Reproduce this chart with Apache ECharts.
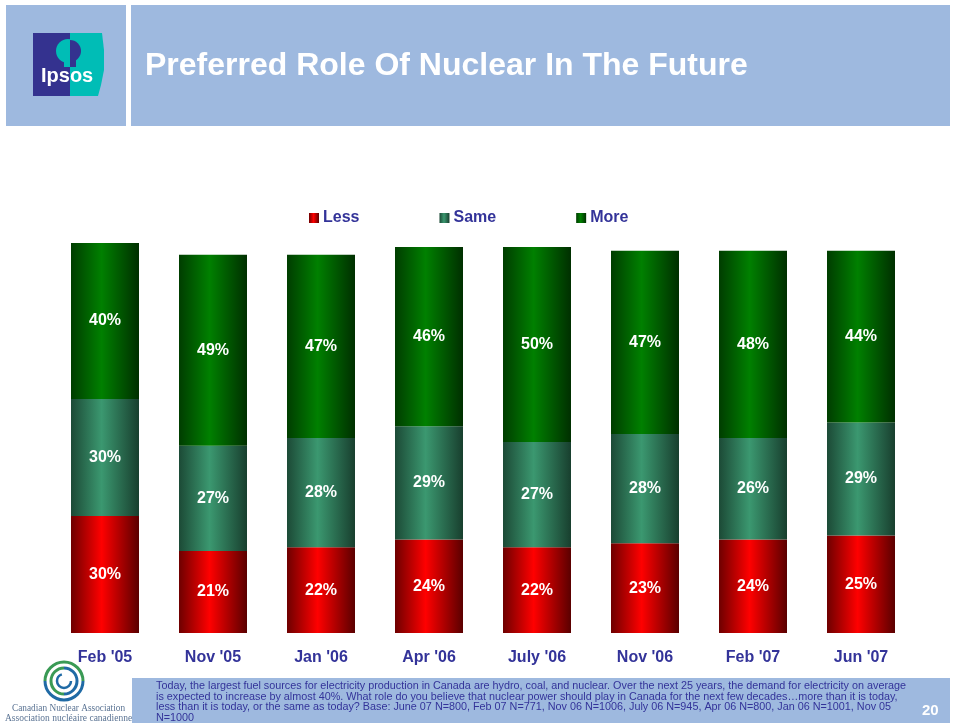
<!DOCTYPE html>
<html>
<head>
<meta charset="utf-8">
<script src="https://cdn.jsdelivr.net/npm/echarts@6/dist/echarts.min.js"></script>
<style>
html,body{margin:0;padding:0;background:#fff;}
#chart{width:955px;height:726px;}
</style>
</head>
<body>
<div id="chart"></div>
<script>
var categories = ["Feb '05", "Nov '05", "Jan '06", "Apr '06", "July '06", "Nov '06", "Feb '07", "Jun '07"];
var lessValues = [30, 21, 22, 24, 22, 23, 24, 25];
var sameValues = [30, 27, 28, 29, 27, 28, 26, 29];
var moreValues = [40, 49, 47, 46, 50, 47, 48, 44];
var seriesNames = ["Less", "Same", "More"];
var titleText = "Preferred Role Of Nuclear In The Future";
var footLines = [
  "Today, the largest fuel sources for electricity production in Canada are hydro, coal, and nuclear. Over the next 25 years, the demand for electricity on average",
  "is expected to increase by almost 40%. What role do you believe that nuclear power should play in Canada for the next few decades\u2026more than it is today,",
  "less than it is today, or the same as today? Base: June 07 N=800, Feb 07 N=771, Nov 06 N=1006, July 06 N=945, Apr 06 N=800, Jan 06 N=1001, Nov 05",
  "N=1000"
];
var pageNumber = "20";

function grad(c0, c1, c2) {
  return new echarts.graphic.LinearGradient(0, 0, 1, 0, [
    {offset: 0, color: c0},
    {offset: 0.45, color: c1},
    {offset: 1, color: c2}
  ]);
}
var colors = [
  grad('#6e0000', '#ff0000', '#5a0000'),
  grad('#1c4a36', '#3b9870', '#183f2e'),
  grad('#003d00', '#008000', '#002f00')
];
var valuesList = [lessValues, sameValues, moreValues];

var chart = echarts.init(document.getElementById('chart'), null, {renderer: 'canvas'});
var font = 'Liberation Sans, Arial, sans-serif';

var series = seriesNames.map(function (name, i) {
  return {
    name: name,
    type: 'bar',
    stack: 'total',
    barWidth: 68,
    data: valuesList[i],
    itemStyle: {color: colors[i]},
    label: {
      show: true,
      position: 'inside',
      formatter: '{c}%',
      color: '#ffffff',
      fontFamily: font,
      fontWeight: 'bold',
      fontSize: 16
    },
    emphasis: {disabled: true}
  };
});

var option = {
  animation: false,
  backgroundColor: '#ffffff',
  legend: {
    data: seriesNames,
    left: 304,
    top: 205,
    itemWidth: 10,
    itemHeight: 10,
    itemGap: 80,
    icon: 'rect',
    textStyle: {color: '#333399', fontFamily: font, fontWeight: 'bold', fontSize: 16, padding: [0, 0, 0, -1]}
  },
  grid: {left: 51, right: 40, top: 243, bottom: 93, containLabel: false},
  xAxis: {
    type: 'category',
    data: categories,
    axisLine: {show: false},
    axisTick: {show: false},
    axisLabel: {
      color: '#333399',
      fontFamily: font,
      fontWeight: 'bold',
      fontSize: 16,
      margin: 17
    }
  },
  yAxis: {
    type: 'value',
    min: 0,
    max: 100,
    show: false,
    splitLine: {show: false}
  },
  series: series,
  graphic: [
    {type: 'rect', shape: {x: 6, y: 5, width: 120, height: 121}, style: {fill: '#9eb9df'}, z: 0},
    {type: 'rect', shape: {x: 131, y: 5, width: 819, height: 121}, style: {fill: '#9eb9df'}, z: 0},
    {type: 'text', left: 145, top: 50, style: {text: titleText, fill: '#ffffff', font: 'bold 32px ' + font}, z: 2},
    // Ipsos logo
    {type: 'rect', shape: {x: 33, y: 33, width: 38, height: 63}, style: {fill: '#34328f'}, z: 2},
    {type: 'polygon', shape: {points: [[70, 33], [102, 33], [104, 50], [104, 70], [101, 85], [98, 96], [70, 96]]}, style: {fill: '#00bdb6'}, z: 2},
    {type: 'ellipse', shape: {cx: 68, cy: 51, rx: 12, ry: 12}, style: {fill: '#00bdb6'}, z: 3},
    {type: 'sector', shape: {cx: 70, cy: 51, r0: 0, r: 11, startAngle: -Math.PI / 2, endAngle: Math.PI / 2}, style: {fill: '#34328f'}, z: 4},
    {type: 'rect', shape: {x: 64, y: 60, width: 6, height: 7}, style: {fill: '#00bdb6'}, z: 4},
    {type: 'rect', shape: {x: 70, y: 60, width: 6, height: 7}, style: {fill: '#34328f'}, z: 4},
    {type: 'text', left: 41, top: 66, style: {text: 'Ipsos', fill: '#ffffff', font: 'bold 20px ' + font}, z: 5},
    // CNA logo
    {type: 'arc', shape: {cx: 64, cy: 681, r: 19, startAngle: 0, endAngle: Math.PI}, style: {stroke: '#1f6aa5', lineWidth: 3, fill: null}, z: 2},
    {type: 'arc', shape: {cx: 64, cy: 681, r: 19, startAngle: Math.PI, endAngle: Math.PI * 2}, style: {stroke: '#3a9a55', lineWidth: 3, fill: null}, z: 2},
    {type: 'arc', shape: {cx: 64, cy: 681, r: 13, startAngle: Math.PI * 0.5, endAngle: Math.PI * 1.5}, style: {stroke: '#3a9a55', lineWidth: 3, fill: null}, z: 2},
    {type: 'arc', shape: {cx: 64, cy: 681, r: 13, startAngle: Math.PI * 1.5, endAngle: Math.PI * 2.5}, style: {stroke: '#1f6aa5', lineWidth: 3, fill: null}, z: 2},
    {type: 'arc', shape: {cx: 64, cy: 681, r: 7, startAngle: 0, endAngle: Math.PI * 1.4}, style: {stroke: '#1f6aa5', lineWidth: 2.5, fill: null}, z: 2},
    {type: 'text', left: 12, top: 704, style: {text: 'Canadian Nuclear Association', fill: '#5a7393', font: '9.3px Liberation Serif, serif'}, z: 2},
    {type: 'text', left: 5, top: 713, style: {text: 'Association nucl\u00e9aire canadienne', fill: '#5a7393', font: '9.5px Liberation Serif, serif'}, z: 2},
    // footer
    {type: 'rect', shape: {x: 132, y: 678, width: 818, height: 45}, style: {fill: '#9eb9df'}, z: 0},
    {type: 'text', left: 156, top: 681, style: {text: footLines.join('\n'), fill: '#333399', font: '10.8px ' + font, lineHeight: 10.4}, z: 2},
    {type: 'text', left: 922, top: 703, style: {text: pageNumber, fill: '#ffffff', font: 'bold 15px ' + font}, z: 2}
  ]
};
chart.setOption(option);
</script>
</body>
</html>
